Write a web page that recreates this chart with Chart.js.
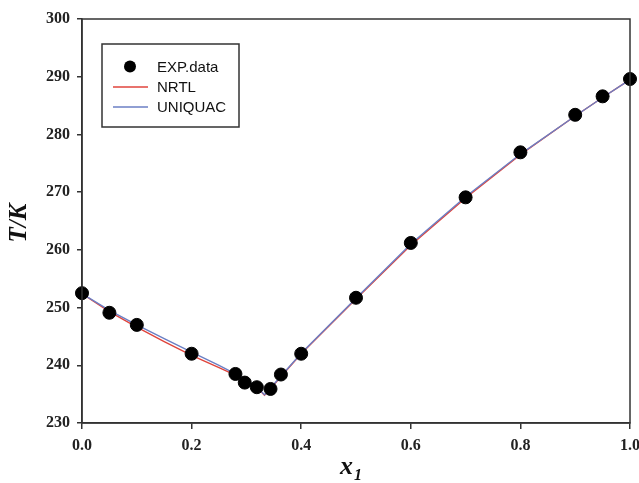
<!DOCTYPE html>
<html>
<head>
<meta charset="utf-8">
<script src="https://cdn.jsdelivr.net/npm/chart.js@4"></script>
<style>
  html, body { margin: 0; padding: 0; background: #fff; }
</style>
</head>
<body>
<canvas id="chart" width="639" height="483"></canvas>
<script>
// experimental points
const expX = [0, 0.05, 0.1, 0.2, 0.28, 0.297, 0.319, 0.344, 0.363, 0.4, 0.5, 0.6, 0.7, 0.8, 0.9, 0.95, 1.0];
const expT = [252.5, 249.1, 247.0, 242.0, 238.5, 237.0, 236.2, 235.9, 238.4, 242.0, 251.7, 261.2, 269.1, 276.9, 283.4, 286.6, 289.6];

// model curves
const modelX = [0, 0.05, 0.1, 0.15, 0.2, 0.25, 0.28, 0.3, 0.32, 0.333, 0.34, 0.36, 0.4, 0.5, 0.6, 0.7, 0.8, 0.9, 0.95, 1.0];
const nrtlT = [252.4, 249.3, 246.6, 244.1, 241.7, 239.6, 238.3, 237.3, 236.1, 234.8, 235.5, 237.7, 242.0, 251.5, 260.8, 269.0, 276.5, 283.2, 286.4, 289.5];
const uniquacT = [252.4, 249.5, 247.0, 244.6, 242.3, 240.0, 238.5, 237.4, 236.2, 234.9, 235.6, 237.8, 242.1, 251.6, 261.0, 269.2, 276.6, 283.2, 286.4, 289.5];

const xTicks = [0, 0.2, 0.4, 0.6, 0.8, 1.0];
const yTicks = [230, 240, 250, 260, 270, 280, 290, 300];

function pts(xs, ys) {
  return xs.map((x, i) => ({ x: x, y: ys[i] }));
}

const axisColor = "#333";
const tickFont = { family: "Liberation Serif", weight: "bold", size: 16 };

/* frame, axis titles, legend */
const decor = {
  id: "decor",
  afterDraw(chart) {
    let ctx = chart.ctx;
    let a = chart.chartArea;
    ctx.save();

    ctx.strokeStyle = axisColor;
    ctx.lineWidth = 1.5;
    ctx.strokeRect(a.left, a.top, a.right - a.left, a.bottom - a.top);

    // y title
    ctx.fillStyle = "#111";
    ctx.font = "italic bold 25px 'Liberation Serif'";
    ctx.textAlign = "center";
    ctx.textBaseline = "middle";
    ctx.translate(20, 223);
    ctx.rotate(-Math.PI / 2);
    ctx.fillText("T/K", 0, 0);
    ctx.setTransform(1, 0, 0, 1, 0, 0);

    // x title with subscript
    ctx.textAlign = "left";
    ctx.textBaseline = "alphabetic";
    ctx.font = "italic bold 26px 'Liberation Serif'";
    ctx.fillText("x", 340, 474);
    ctx.font = "italic bold 16px 'Liberation Serif'";
    ctx.fillText("1", 354, 480);

    // legend
    let bx = 102, by = 44, bw = 137, bh = 83;
    ctx.fillStyle = "#fff";
    ctx.fillRect(bx, by, bw, bh);
    ctx.strokeStyle = "#333";
    ctx.lineWidth = 1.5;
    ctx.strokeRect(bx, by, bw, bh);

    let ds = chart.data.datasets;
    let rows = [66.5, 87, 107];
    ctx.font = "15px 'Liberation Sans'";
    ctx.textBaseline = "middle";
    ds.forEach((d, i) => {
      let y = rows[i];
      if (d.showLine) {
        ctx.strokeStyle = d.borderColor;
        ctx.lineWidth = 1.4;
        ctx.beginPath();
        ctx.moveTo(113, y);
        ctx.lineTo(148, y);
        ctx.stroke();
      } else {
        ctx.fillStyle = "#000";
        ctx.beginPath();
        ctx.arc(130, y, 6, 0, Math.PI * 2);
        ctx.fill();
      }
      ctx.fillStyle = "#111";
      ctx.fillText(d.label, 157, y + 1);
    });
    ctx.restore();
  }
};

new Chart(document.getElementById("chart"), {
  type: "scatter",
  data: {
    datasets: [
      {
        label: "EXP.data",
        data: pts(expX, expT),
        pointRadius: 6.5,
        pointBackgroundColor: "#000",
        pointBorderColor: "#000",
        showLine: false,
        clip: false,
        order: 0
      },
      {
        label: "NRTL",
        data: pts(modelX, nrtlT),
        showLine: true,
        borderColor: "#e0443c",
        borderWidth: 1.4,
        pointRadius: 0,
        clip: false,
        order: 2
      },
      {
        label: "UNIQUAC",
        data: pts(modelX, uniquacT),
        showLine: true,
        borderColor: "#6b7fc4",
        borderWidth: 1.4,
        pointRadius: 0,
        clip: false,
        order: 1
      }
    ]
  },
  options: {
    responsive: false,
    animation: false,
    layout: { padding: { left: 0, right: 9, top: 19, bottom: 0 } },
    plugins: {
      legend: { display: false },
      tooltip: { enabled: false }
    },
    scales: {
      x: {
        type: "linear",
        min: 0,
        max: 1,
        afterBuildTicks: s => { s.ticks = xTicks.map(v => ({ value: v })); },
        afterFit: s => { s.height = 60; s.paddingLeft = 0; s.paddingRight = 0; },
        ticks: {
          font: tickFont,
          color: "#222",
          padding: 7,
          maxRotation: 0,
          callback: v => v.toFixed(1)
        },
        grid: { drawOnChartArea: false, drawTicks: true, tickLength: 6, color: axisColor, lineWidth: 1.5 },
        border: { display: true, color: axisColor, width: 1.5 }
      },
      y: {
        min: 230,
        max: 300,
        afterBuildTicks: s => { s.ticks = yTicks.map(v => ({ value: v })); },
        afterFit: s => { s.width = 82; s.paddingTop = 0; s.paddingBottom = 0; },
        ticks: {
          font: tickFont,
          color: "#222",
          padding: 7,
          callback: v => String(v)
        },
        grid: { drawOnChartArea: false, drawTicks: true, tickLength: 5, color: axisColor, lineWidth: 1.5 },
        border: { display: true, color: axisColor, width: 1.5 }
      }
    }
  },
  plugins: [decor]
});
</script>
</body>
</html>
